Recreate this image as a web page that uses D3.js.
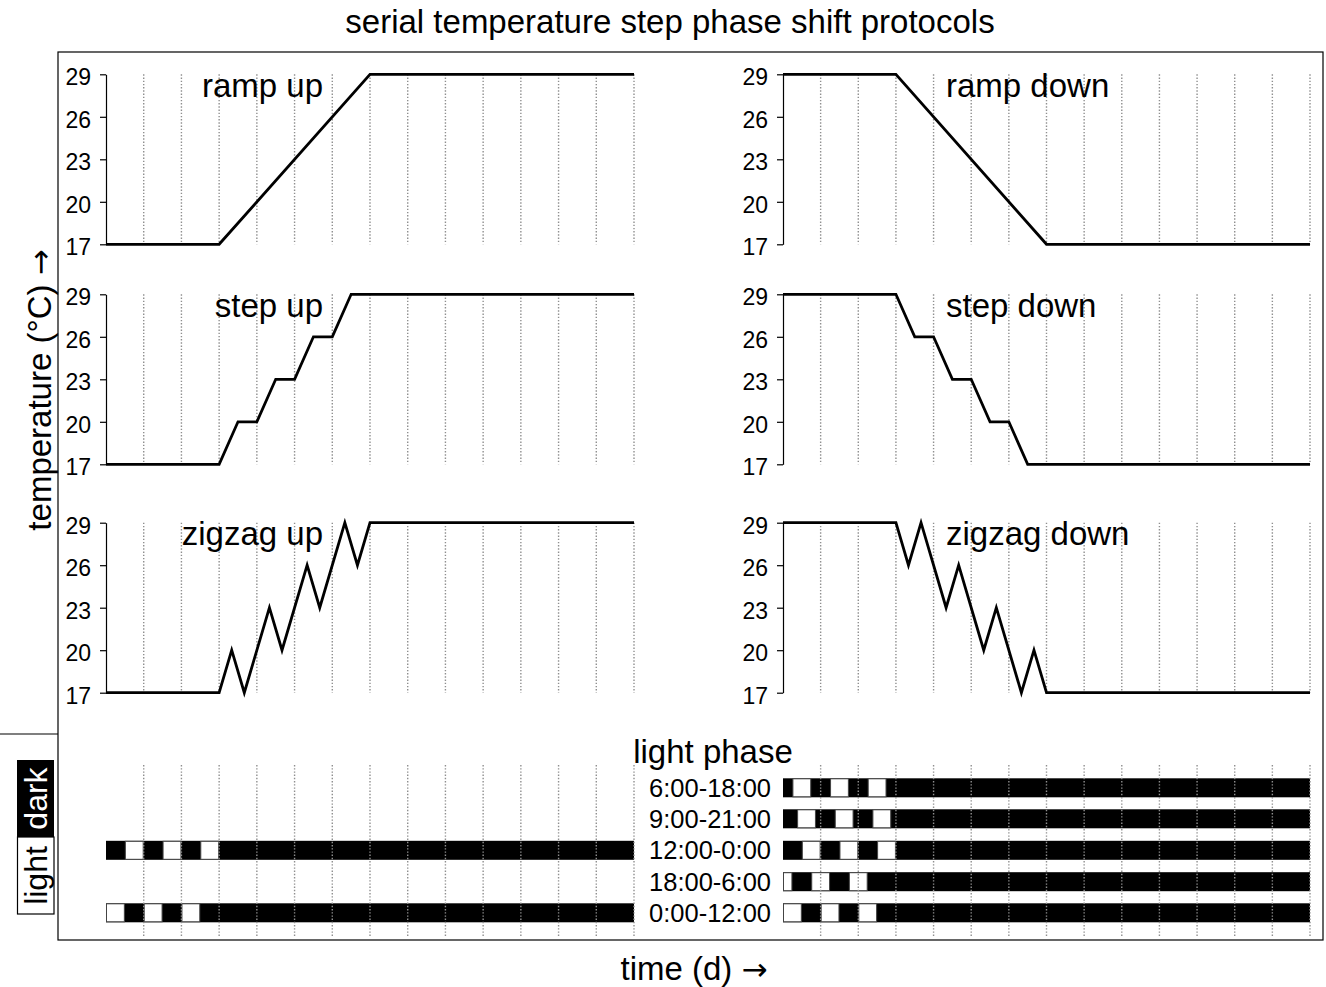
<!DOCTYPE html>
<html>
<head>
<meta charset="utf-8">
<script src="https://cdn.jsdelivr.net/npm/d3@7"></script>
<style>
  html, body { margin: 0; padding: 0; background: #fff; }
  svg { display: block; font-family: "Liberation Sans", Arial, Helvetica, sans-serif; }
</style>
</head>
<body>
<svg id="chart" width="1326" height="987"></svg>
<script>
// Temperature protocols: time in days, temperature in °C
const rampUpDays = [0, 3, 7, 14];
const rampUpTemp = [17, 17, 29, 29];
const rampDownDays = [0, 3, 7, 14];
const rampDownTemp = [29, 29, 17, 17];

const stepUpDays = [0, 3, 3.5, 4, 4.5, 5, 5.5, 6, 6.5, 14];
const stepUpTemp = [17, 17, 20, 20, 23, 23, 26, 26, 29, 29];
const stepDownDays = [0, 3, 3.5, 4, 4.5, 5, 5.5, 6, 6.5, 14];
const stepDownTemp = [29, 29, 26, 26, 23, 23, 20, 20, 17, 17];

const zigzagUpDays = [0, 3, 3.333, 3.667, 4.333, 4.667, 5.333, 5.667, 6.333, 6.667, 7, 14];
const zigzagUpTemp = [17, 17, 20, 17, 23, 20, 26, 23, 29, 26, 29, 29];
const zigzagDownDays = [0, 3, 3.333, 3.667, 4.333, 4.667, 5.333, 5.667, 6.333, 6.667, 7, 14];
const zigzagDownTemp = [29, 29, 26, 29, 23, 26, 20, 23, 17, 20, 17, 17];

const tempTicks = [17, 20, 23, 26, 29];
const dayGrid = [1, 2, 3, 4, 5, 6, 7, 8, 9, 10, 11, 12, 13, 14];

// Light phases: label and the light intervals [start, end] in days
const phaseLabels = ["6:00-18:00", "9:00-21:00", "12:00-0:00", "18:00-6:00", "0:00-12:00"];
const phaseLight = [
  [[0.25, 0.75], [1.25, 1.75], [2.25, 2.75]],
  [[0.375, 0.875], [1.375, 1.875], [2.375, 2.875]],
  [[0.5, 1], [1.5, 2], [2.5, 3]],
  [[0, 0.25], [0.75, 1.25], [1.75, 2.25]],
  [[0, 0.5], [1, 1.5], [2, 2.5]]
];
// rows of the light panel that are also drawn under the "up" protocols
const leftPhaseRows = [2, 4];

const svg = d3.select("#chart");

const xLeft = d3.scaleLinear().domain([0, 14]).range([106, 634]);
const xRight = d3.scaleLinear().domain([0, 14]).range([783, 1310]);
const rowTops = [74.3, 294.3, 522.7];
const rowHeight = 170;

const gridColor = "#8f8f8f";
const gridDash = "1.4,1.8";

// frame
svg.append("rect").attr("x", 58).attr("y", 52).attr("width", 1265).attr("height", 888)
  .attr("fill", "none").attr("stroke", "#000").attr("stroke-width", 1.2);
svg.append("line").attr("x1", 0).attr("x2", 58).attr("y1", 734).attr("y2", 734)
  .attr("stroke", "#000").attr("stroke-width", 1.2);

// title and axis captions
svg.append("text").attr("x", 670).attr("y", 33).attr("text-anchor", "middle")
  .attr("font-size", 33).text("serial temperature step phase shift protocols");

const xCap = svg.append("text").attr("x", 694).attr("y", 980).attr("text-anchor", "middle")
  .attr("font-size", 33);
xCap.append("tspan").text("time (d) ");
xCap.append("tspan").attr("font-family", "'DejaVu Sans', sans-serif").attr("font-size", 31).text("\u2192");

const yCap = svg.append("text").attr("transform", "translate(51,390) rotate(-90)")
  .attr("text-anchor", "middle").attr("font-size", 33);
yCap.append("tspan").text("temperature (\u00B0C) ");
yCap.append("tspan").attr("font-family", "'DejaVu Sans', sans-serif").attr("font-size", 31).text("\u2192");

const panels = [
  { side: "left", row: 0, days: rampUpDays, temp: rampUpTemp, label: "ramp up" },
  { side: "right", row: 0, days: rampDownDays, temp: rampDownTemp, label: "ramp down" },
  { side: "left", row: 1, days: stepUpDays, temp: stepUpTemp, label: "step up" },
  { side: "right", row: 1, days: stepDownDays, temp: stepDownTemp, label: "step down" },
  { side: "left", row: 2, days: zigzagUpDays, temp: zigzagUpTemp, label: "zigzag up" },
  { side: "right", row: 2, days: zigzagDownDays, temp: zigzagDownTemp, label: "zigzag down" }
];

panels.forEach(p => {
  const x = p.side === "left" ? xLeft : xRight;
  const top = rowTops[p.row];
  const y = d3.scaleLinear().domain([17, 29]).range([top + rowHeight, top]);
  const g = svg.append("g");

  // daily grid
  g.selectAll("line.grid").data(dayGrid).join("line")
    .attr("x1", d => x(d)).attr("x2", d => x(d))
    .attr("y1", y(29)).attr("y2", y(17))
    .attr("stroke", gridColor).attr("stroke-width", 1.4)
    .attr("stroke-dasharray", gridDash);

  // temperature axis
  const axis = g.append("g").attr("transform", `translate(${x(0)},0)`)
    .call(d3.axisLeft(y).tickValues(tempTicks).tickSize(6).tickSizeOuter(0).tickPadding(9));
  axis.select(".domain").attr("stroke-width", 1.2);
  axis.selectAll(".tick line").attr("stroke-width", 1.2);
  axis.selectAll(".tick text").attr("font-size", 23)
    .attr("font-family", "'Liberation Sans', Arial, sans-serif").attr("fill", "#000")
    .attr("dy", "0.45em");

  // protocol line
  const pts = p.days.map((d, i) => [d, p.temp[i]]);
  g.append("path").datum(pts)
    .attr("d", d3.line().x(d => x(d[0])).y(d => y(d[1])))
    .attr("fill", "none").attr("stroke", "#000").attr("stroke-width", 2.8)
    .attr("stroke-linejoin", "miter");

  // protocol name
  g.append("text")
    .attr("x", p.side === "left" ? 323 : 946)
    .attr("y", top + 22.7)
    .attr("text-anchor", p.side === "left" ? "end" : "start")
    .attr("font-size", 33).text(p.label);
});

// light phase section
const barCenters = [787.8, 818.8, 850.3, 881.7, 912.8];
const barH = 19;

svg.append("text").attr("x", 713).attr("y", 763).attr("text-anchor", "middle")
  .attr("font-size", 33).text("light phase");

function drawBar(x, rowIdx) {
  const cy = barCenters[rowIdx];
  svg.append("rect").attr("x", x(0)).attr("y", cy - barH / 2)
    .attr("width", x(14) - x(0)).attr("height", barH).attr("fill", "#000");
  svg.selectAll(null).data(phaseLight[rowIdx]).join("rect")
    .attr("x", d => x(d[0]) + 0.5).attr("y", cy - barH / 2 + 0.5)
    .attr("width", d => x(d[1]) - x(d[0]) - 1).attr("height", barH - 1)
    .attr("fill", "#fff").attr("stroke", "#444").attr("stroke-width", 1);
}

phaseLabels.forEach((lab, i) => {
  drawBar(xRight, i);
  svg.append("text").attr("x", 771).attr("y", barCenters[i])
    .attr("dy", "0.36em").attr("text-anchor", "end")
    .attr("font-size", 25.5).text(lab);
});
leftPhaseRows.forEach(i => drawBar(xLeft, i));

// daily grid over the light bars
[xLeft, xRight].forEach(x => {
  svg.append("g").selectAll("line").data(dayGrid).join("line")
    .attr("x1", d => x(d)).attr("x2", d => x(d))
    .attr("y1", 765).attr("y2", 937)
    .attr("stroke", gridColor).attr("stroke-width", 1.4)
    .attr("stroke-dasharray", gridDash);
});

// light / dark key
svg.append("rect").attr("x", 17).attr("y", 760).attr("width", 37).attr("height", 77)
  .attr("fill", "#000");
svg.append("rect").attr("x", 17.5).attr("y", 837).attr("width", 36.5).attr("height", 77)
  .attr("fill", "#fff").attr("stroke", "#000").attr("stroke-width", 1.2);
svg.append("text").attr("transform", "translate(47,798.5) rotate(-90)")
  .attr("text-anchor", "middle").attr("font-size", 32).attr("fill", "#fff").text("dark");
svg.append("text").attr("transform", "translate(47,875.5) rotate(-90)")
  .attr("text-anchor", "middle").attr("font-size", 32).attr("fill", "#000").text("light");
</script>
</body>
</html>
